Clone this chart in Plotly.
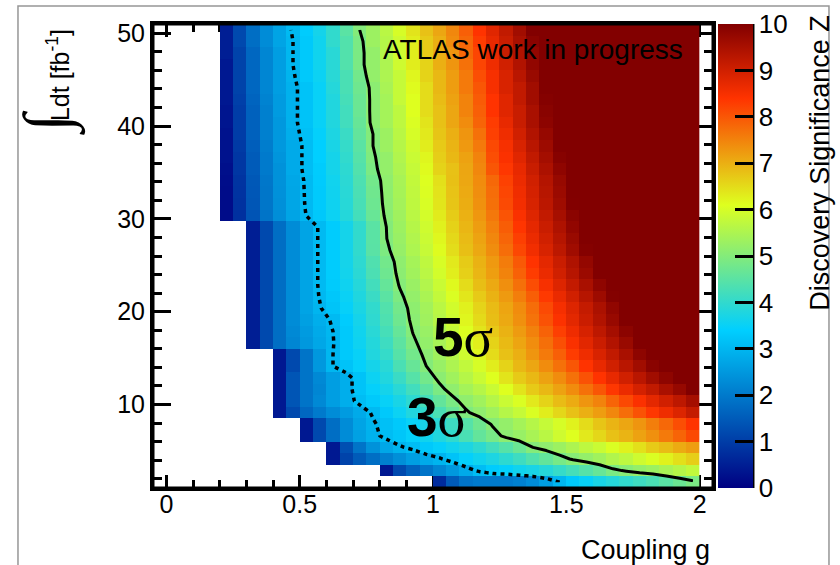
import plotly.graph_objects as go

# Histogram binning: 40 coupling bins (0..2) and 40 luminosity bins (1..51 fb^-1)
coupling_centers = [round(0.025 + 0.05 * i, 3) for i in range(40)]
lumi_centers = [round(1.625 + 1.25 * j, 3) for j in range(40)]

# First filled coupling bin in every luminosity row (lower bins are empty)
first_bin = [20, 16, 12, 12, 10, 10, 8, 8, 8, 8, 8, 8,
             6, 6, 6, 6, 6, 6, 6, 6, 6, 6, 6,
             4, 4, 4, 4, 4, 4, 4, 4, 4, 4, 4, 4, 4, 4, 4, 4, 4]

# Discovery significance Z per luminosity row, starting at first_bin
significance_rows = [
    [0.7, 1.5, 1.9, 2.0, 2.0, 2.0, 2.1, 2.3, 2.6, 3.0, 3.3, 3.5, 3.7, 3.85, 4.0, 4.15, 4.3, 4.5, 4.7, 4.9],
    [0.4, 1.2, 1.6, 1.9, 2.2, 2.5, 2.8, 3.1, 3.35, 3.45, 3.6, 3.7, 3.85, 4.05, 4.25, 4.45, 4.65, 4.9, 5.05, 5.2, 5.3, 5.45, 5.6, 5.75],
    [0.4, 1.1, 1.5, 1.8, 2.1, 2.35, 2.6, 2.8, 2.95, 3.2, 3.45, 3.6, 3.75, 3.95, 4.15, 4.4, 4.6, 4.85, 5.05, 5.2, 5.35, 5.55, 5.7, 5.9, 6.05, 6.25, 6.45, 6.65],
    [0.4, 1.3, 1.9, 2.4, 2.75, 2.95, 3.1, 3.3, 3.45, 3.6, 3.75, 3.95, 4.2, 4.45, 4.7, 5.0, 5.15, 5.3, 5.5, 5.7, 5.85, 6.05, 6.25, 6.45, 6.7, 6.85, 7.05, 7.2],
    [0.4, 1.2, 1.8, 2.3, 2.65, 2.9, 3.1, 3.25, 3.45, 3.6, 3.8, 4.0, 4.3, 4.6, 4.85, 5.1, 5.25, 5.45, 5.65, 5.9, 6.1, 6.35, 6.55, 6.8, 6.95, 7.15, 7.35, 7.6, 7.85, 8.15],
    [0.4, 1.2, 1.8, 2.3, 2.7, 2.95, 3.15, 3.3, 3.5, 3.7, 3.9, 4.15, 4.45, 4.75, 5.05, 5.2, 5.4, 5.6, 5.8, 6.0, 6.25, 6.5, 6.75, 6.95, 7.1, 7.3, 7.55, 7.8, 8.1, 8.4],
    [0.4, 1.2, 1.7, 2.0, 2.3, 2.55, 2.8, 3.05, 3.3, 3.55, 3.8, 4.0, 4.3, 4.65, 4.95, 5.15, 5.35, 5.6, 5.8, 6.05, 6.3, 6.55, 6.8, 7.0, 7.2, 7.45, 7.75, 8.05, 8.35, 8.6, 8.85, 9.15],
    [0.4, 1.4, 1.9, 2.25, 2.6, 2.85, 3.1, 3.3, 3.5, 3.7, 3.95, 4.25, 4.6, 4.9, 5.15, 5.35, 5.6, 5.85, 6.05, 6.35, 6.6, 6.85, 7.05, 7.3, 7.5, 7.85, 8.15, 8.45, 8.75, 9.0, 9.25, 9.55],
    [0.4, 1.4, 1.9, 2.2, 2.6, 2.85, 3.2, 3.45, 3.65, 3.9, 4.2, 4.55, 4.9, 5.15, 5.4, 5.6, 5.85, 6.1, 6.4, 6.7, 6.9, 7.15, 7.4, 7.7, 8.0, 8.35, 8.65, 8.95, 9.2, 9.5, 9.75, 10.05],
    [0.4, 1.4, 1.9, 2.25, 2.6, 2.85, 3.2, 3.55, 3.8, 4.1, 4.45, 4.8, 5.1, 5.35, 5.6, 5.85, 6.1, 6.4, 6.7, 6.9, 7.15, 7.4, 7.7, 8.05, 8.4, 8.7, 9.0, 9.3, 9.6, 9.85, 10.15, 10.45],
    [0.4, 1.2, 1.9, 2.5, 3.0, 3.2, 3.45, 3.65, 3.9, 4.3, 4.65, 5.0, 5.25, 5.5, 5.75, 6.0, 6.3, 6.6, 6.9, 7.1, 7.4, 7.7, 8.0, 8.4, 8.7, 9.0, 9.3, 9.6, 9.9, 10.2, 10.5, 10.8],
    [0.4, 1.2, 1.9, 2.5, 3.0, 3.3, 3.5, 3.8, 4.05, 4.45, 4.8, 5.1, 5.35, 5.6, 5.9, 6.2, 6.5, 6.8, 7.0, 7.3, 7.6, 7.9, 8.3, 8.6, 8.9, 9.2, 9.5, 9.85, 10.15, 10.45, 10.75, 11.05],
    [0.5, 1.2, 1.8, 2.2, 2.5, 2.75, 2.98, 3.3, 3.57, 3.83, 4.15, 4.53, 4.92, 5.19, 5.44, 5.71, 5.98, 6.29, 6.6, 6.88, 7.12, 7.39, 7.72, 8.08, 8.46, 8.77, 9.08, 9.39, 9.7, 10.01, 10.32, 10.63, 10.94, 11.25],
    [0.5, 1.2, 1.8, 2.25, 2.55, 2.8, 3.0, 3.3, 3.6, 3.9, 4.25, 4.64, 5.02, 5.26, 5.52, 5.8, 6.09, 6.4, 6.72, 6.97, 7.23, 7.52, 7.87, 8.26, 8.61, 8.92, 9.24, 9.55, 9.87, 10.18, 10.5, 10.81, 11.13, 11.44],
    [0.5, 1.2, 1.8, 2.3, 2.62, 2.85, 3.05, 3.35, 3.65, 3.97, 4.35, 4.75, 5.09, 5.34, 5.62, 5.9, 6.2, 6.52, 6.83, 7.07, 7.35, 7.68, 8.05, 8.44, 8.76, 9.08, 9.4, 9.72, 10.04, 10.36, 10.68, 11.0, 11.32, 11.64],
    [0.5, 1.2, 1.8, 2.3, 2.69, 2.97, 3.22, 3.47, 3.72, 4.0, 4.4, 4.81, 5.13, 5.38, 5.66, 5.94, 6.26, 6.58, 6.87, 7.12, 7.4, 7.75, 8.14, 8.52, 8.84, 9.16, 9.48, 9.81, 10.13, 10.45, 10.77, 11.1, 11.42, 11.74],
    [0.5, 1.2, 1.8, 2.3, 2.7, 3.02, 3.27, 3.52, 3.78, 4.1, 4.51, 4.92, 5.2, 5.47, 5.76, 6.05, 6.38, 6.7, 6.97, 7.24, 7.55, 7.92, 8.33, 8.67, 9.0, 9.33, 9.66, 9.98, 10.31, 10.64, 10.97, 11.29, 11.62, 11.95],
    [0.5, 1.2, 1.8, 2.3, 2.7, 3.05, 3.33, 3.58, 3.85, 4.21, 4.63, 5.03, 5.27, 5.56, 5.85, 6.17, 6.5, 6.83, 7.07, 7.36, 7.71, 8.11, 8.5, 8.83, 9.17, 9.5, 9.83, 10.17, 10.5, 10.83, 11.17, 11.5, 11.83, 12.17],
    [0.5, 1.2, 1.8, 2.3, 2.7, 3.05, 3.35, 3.63, 3.92, 4.32, 4.74, 5.1, 5.36, 5.66, 5.96, 6.29, 6.63, 6.92, 7.19, 7.5, 7.88, 8.3, 8.66, 9.0, 9.34, 9.68, 10.02, 10.36, 10.69, 11.03, 11.37, 11.71, 12.05, 12.39],
    [0.5, 1.2, 1.8, 2.3, 2.7, 3.05, 3.35, 3.65, 3.96, 4.37, 4.8, 5.14, 5.41, 5.71, 6.01, 6.35, 6.69, 6.97, 7.25, 7.58, 7.97, 8.4, 8.74, 9.09, 9.43, 9.77, 10.11, 10.45, 10.8, 11.14, 11.48, 11.82, 12.16, 12.51],
    [0.5, 1.2, 1.8, 2.3, 2.7, 3.05, 3.35, 3.65, 4.0, 4.49, 4.92, 5.22, 5.51, 5.81, 6.13, 6.48, 6.82, 7.08, 7.38, 7.75, 8.17, 8.57, 8.91, 9.26, 9.61, 9.96, 10.3, 10.65, 11.0, 11.35, 11.7, 12.05, 12.4, 12.75],
    [0.5, 1.2, 1.8, 2.3, 2.7, 3.05, 3.35, 3.65, 4.0, 4.5, 4.99, 5.26, 5.55, 5.86, 6.19, 6.54, 6.87, 7.14, 7.45, 7.84, 8.27, 8.65, 9.0, 9.35, 9.7, 10.05, 10.4, 10.75, 11.1, 11.45, 11.8, 12.15, 12.5, 12.85],
    [0.5, 1.2, 1.8, 2.3, 2.7, 3.05, 3.35, 3.65, 4.0, 4.5, 5.0, 5.3, 5.6, 5.91, 6.26, 6.61, 6.92, 7.2, 7.53, 7.93, 8.38, 8.73, 9.09, 9.44, 9.8, 10.15, 10.5, 10.86, 11.21, 11.57, 11.92, 12.28, 12.63, 12.98],
    [0.2, 0.79, 1.38, 1.9, 2.34, 2.69, 3.01, 3.28, 3.55, 3.84, 4.22, 4.67, 5.07, 5.34, 5.66, 5.97, 6.32, 6.68, 6.98, 7.27, 7.62, 8.03, 8.46, 8.82, 9.18, 9.54, 9.89, 10.25, 10.61, 10.96, 11.32, 11.68, 12.04, 12.39, 12.75, 13.11],
    [0.2, 0.82, 1.41, 1.93, 2.36, 2.72, 3.04, 3.31, 3.58, 3.88, 4.28, 4.73, 5.11, 5.39, 5.71, 6.03, 6.39, 6.75, 7.03, 7.34, 7.71, 8.14, 8.55, 8.91, 9.27, 9.63, 9.99, 10.35, 10.71, 11.07, 11.43, 11.79, 12.15, 12.51, 12.87, 13.23],
    [0.2, 0.83, 1.43, 1.94, 2.38, 2.73, 3.05, 3.32, 3.59, 3.9, 4.31, 4.76, 5.13, 5.42, 5.73, 6.06, 6.42, 6.78, 7.06, 7.37, 7.75, 8.19, 8.59, 8.95, 9.32, 9.68, 10.04, 10.4, 10.76, 11.13, 11.49, 11.85, 12.21, 12.57, 12.94, 13.3],
    [0.21, 0.85, 1.45, 1.96, 2.39, 2.75, 3.06, 3.34, 3.61, 3.92, 4.34, 4.8, 5.15, 5.44, 5.76, 6.09, 6.45, 6.81, 7.09, 7.4, 7.8, 8.24, 8.64, 9.0, 9.36, 9.73, 10.09, 10.45, 10.82, 11.18, 11.55, 11.91, 12.27, 12.64, 13.0, 13.36],
    [0.25, 0.9, 1.5, 2.0, 2.4, 2.8, 3.1, 3.35, 3.65, 3.95, 4.4, 4.9, 5.2, 5.5, 5.8, 6.15, 6.6, 6.8, 7.1, 7.45, 8.0, 8.35, 8.7, 9.1, 9.46, 9.83, 10.19, 10.56, 10.93, 11.29, 11.66, 12.03, 12.39, 12.76, 13.13, 13.49],
    [0.3, 0.9, 1.5, 2.0, 2.45, 2.8, 3.1, 3.4, 3.65, 4.0, 4.45, 4.95, 5.2, 5.55, 5.85, 6.2, 6.65, 6.9, 7.15, 7.5, 8.1, 8.45, 8.8, 9.2, 9.56, 9.93, 10.3, 10.67, 11.04, 11.41, 11.78, 12.15, 12.52, 12.89, 13.26, 13.63],
    [0.3, 0.95, 1.55, 2.05, 2.5, 2.8, 3.1, 3.4, 3.7, 4.05, 4.5, 5.0, 5.3, 5.6, 5.9, 6.3, 6.7, 6.95, 7.25, 7.6, 8.15, 8.5, 8.9, 9.3, 9.65, 10.03, 10.4, 10.78, 11.15, 11.52, 11.9, 12.27, 12.65, 13.02, 13.39, 13.77],
    [0.3, 1.0, 1.6, 2.1, 2.5, 2.85, 3.15, 3.45, 3.75, 4.1, 4.6, 5.0, 5.3, 5.65, 6.0, 6.35, 6.75, 7.0, 7.3, 7.7, 8.25, 8.6, 9.0, 9.4, 9.75, 10.13, 10.51, 10.89, 11.26, 11.64, 12.02, 12.4, 12.77, 13.15, 13.53, 13.91],
    [0.35, 1.0, 1.6, 2.1, 2.5, 2.9, 3.2, 3.5, 3.8, 4.2, 4.65, 5.1, 5.4, 5.7, 6.05, 6.4, 6.8, 7.1, 7.4, 7.85, 8.3, 8.7, 9.1, 9.5, 9.86, 10.24, 10.62, 11.0, 11.38, 11.76, 12.14, 12.52, 12.9, 13.29, 13.67, 14.05],
    [0.35, 1.0, 1.6, 2.1, 2.55, 2.9, 3.2, 3.5, 3.8, 4.2, 4.7, 5.1, 5.4, 5.7, 6.1, 6.5, 6.8, 7.1, 7.5, 7.9, 8.4, 8.8, 9.1, 9.5, 9.91, 10.29, 10.68, 11.06, 11.44, 11.82, 12.21, 12.59, 12.97, 13.36, 13.74, 14.12],
    [0.4, 1.05, 1.65, 2.15, 2.55, 2.9, 3.2, 3.5, 3.8, 4.25, 4.7, 5.1, 5.4, 5.8, 6.1, 6.5, 6.85, 7.15, 7.5, 7.95, 8.4, 8.8, 9.2, 9.6, 9.96, 10.35, 10.73, 11.12, 11.5, 11.88, 12.27, 12.65, 13.04, 13.42, 13.81, 14.19],
    [0.4, 1.1, 1.7, 2.2, 2.6, 2.9, 3.2, 3.5, 3.85, 4.3, 4.75, 5.1, 5.45, 5.8, 6.15, 6.5, 6.9, 7.2, 7.6, 8.0, 8.5, 8.9, 9.2, 9.6, 10.01, 10.4, 10.79, 11.17, 11.56, 11.95, 12.33, 12.72, 13.11, 13.49, 13.88, 14.26],
    [0.4, 1.1, 1.7, 2.2, 2.6, 2.95, 3.3, 3.55, 3.9, 4.3, 4.8, 5.2, 5.5, 5.8, 6.2, 6.6, 6.9, 7.2, 7.6, 8.1, 8.5, 8.9, 9.3, 9.7, 10.07, 10.46, 10.84, 11.23, 11.62, 12.01, 12.4, 12.79, 13.17, 13.56, 13.95, 14.34],
    [0.4, 1.1, 1.7, 2.2, 2.6, 3.0, 3.3, 3.6, 3.9, 4.4, 4.9, 5.2, 5.5, 5.9, 6.3, 6.6, 7.0, 7.3, 7.7, 8.2, 8.6, 9.0, 9.4, 9.8, 10.18, 10.57, 10.96, 11.35, 11.74, 12.14, 12.53, 12.92, 13.31, 13.71, 14.1, 14.49],
    [0.5, 1.1, 1.7, 2.2, 2.6, 3.0, 3.3, 3.6, 3.9, 4.4, 4.9, 5.2, 5.6, 5.9, 6.3, 6.7, 7.0, 7.3, 7.8, 8.2, 8.7, 9.1, 9.4, 9.8, 10.23, 10.63, 11.02, 11.41, 11.81, 12.2, 12.6, 12.99, 13.38, 13.78, 14.17, 14.57],
    [0.5, 1.2, 1.8, 2.3, 2.7, 3.0, 3.3, 3.6, 4.0, 4.4, 4.9, 5.3, 5.6, 5.9, 6.3, 6.7, 7.0, 7.4, 7.8, 8.3, 8.7, 9.1, 9.5, 9.9, 10.29, 10.68, 11.08, 11.48, 11.87, 12.27, 12.66, 13.06, 13.46, 13.85, 14.25, 14.64],
    [0.5, 1.2, 1.8, 2.3, 2.7, 3.05, 3.35, 3.65, 4.0, 4.5, 5.0, 5.3, 5.65, 6.0, 6.4, 6.8, 7.1, 7.45, 7.9, 8.4, 8.8, 9.2, 9.6, 10.0, 10.4, 10.8, 11.2, 11.6, 12.0, 12.4, 12.8, 13.2, 13.6, 14.0, 14.4, 14.8],
]

significance = [[None] * fb + list(vals) for fb, vals in zip(first_bin, significance_rows)]
assert all(len(r) == len(coupling_centers) for r in significance)

# ROOT-style rainbow palette
palette = [
    [0.00, "rgb(0,0,130)"],
    [0.34, "rgb(0,207,255)"],
    [0.61, "rgb(222,255,31)"],
    [0.84, "rgb(255,51,0)"],
    [1.00, "rgb(130,0,0)"],
]

FONT = "Liberation Sans"

fig = go.Figure()

fig.add_trace(go.Heatmap(
    x=coupling_centers, y=lumi_centers, z=significance,
    zmin=0, zmax=10, colorscale=palette, hoverongaps=False,
    colorbar=dict(
        x=1.0089, xanchor="left", xpad=0,
        y=0.5, yanchor="middle", len=1, lenmode="fraction", ypad=0,
        thickness=35, outlinewidth=0,
        tickmode="array", tickvals=list(range(11)),
        ticks="inside", ticklen=18, tickwidth=3, tickcolor="black",
        tickfont=dict(family=FONT, size=26, color="black"),
    ),
))

# 3 sigma (dotted) and 5 sigma (solid) contours
fig.add_trace(go.Contour(
    x=coupling_centers, y=lumi_centers, z=significance,
    autocontour=False, contours=dict(start=3, end=3, size=1, coloring="none"),
    line=dict(color="black", width=3.5, dash="4px,4px", smoothing=0),
    showscale=False, hoverinfo="skip",
))
fig.add_trace(go.Contour(
    x=coupling_centers, y=lumi_centers, z=significance,
    autocontour=False, contours=dict(start=5, end=5, size=1, coloring="none"),
    line=dict(color="black", width=3, smoothing=0),
    showscale=False, hoverinfo="skip",
))

axis_common = dict(
    showgrid=False, zeroline=False, showline=True, linewidth=3, linecolor="black",
    ticks="inside", tickwidth=3, tickcolor="black", mirror="ticks",
    layer="below traces", tickfont=dict(family=FONT, size=25, color="black"),
)

fig.update_xaxes(range=[-0.05, 2.05], tick0=0, dtick=0.5, ticklen=13, ticklabelstandoff=-8,
                 minor=dict(tick0=0, dtick=0.1, ticks="inside", ticklen=8, tickwidth=2.5, tickcolor="black"),
                 **axis_common)
fig.update_yaxes(range=[1, 51], tick0=0, dtick=10, ticklen=18,
                 minor=dict(tick0=0, dtick=2, ticks="inside", ticklen=9, tickwidth=2.5, tickcolor="black"),
                 **axis_common)

fig.update_layout(
    width=840, height=565,
    margin=dict(l=153, r=127, t=24, b=77),
    paper_bgcolor="white", plot_bgcolor="white",
    font=dict(family=FONT, color="black"),
    showlegend=False,
    shapes=[
        # frame around the pad
        dict(type="rect", xref="paper", yref="paper", x0=0, x1=1, y0=0, y1=1,
             line=dict(color="black", width=3), layer="above"),
        # colour axis line
        dict(type="line", xref="paper", yref="paper", x0=1.0714, x1=1.0714, y0=0, y1=1,
             line=dict(color="black", width=3)),
        # canvas border
        dict(type="rect", xref="paper", yref="paper", x0=-0.2411, x1=1.2071, y0=-0.3, y1=1.0388,
             line=dict(color="rgb(150,150,150)", width=1.5), layer="below"),
    ],
    annotations=[
        dict(text="ATLAS work in progress", xref="paper", yref="paper",
             x=0.4071, y=0.944, xanchor="left", yanchor="middle", showarrow=False,
             font=dict(family=FONT, size=28, color="black")),
        dict(text="<b>5</b><span style='font-family:Liberation Serif'>σ</span>",
             xref="paper", yref="paper", x=0.4964, y=0.325, xanchor="left", yanchor="middle",
             showarrow=False, font=dict(family=FONT, size=55, color="black")),
        dict(text="<b>3</b><span style='font-family:Liberation Serif'>σ</span>",
             xref="paper", yref="paper", x=0.45, y=0.153, xanchor="left", yanchor="middle",
             showarrow=False, font=dict(family=FONT, size=55, color="black")),
        # luminosity axis title: integral sign and "Ldt [fb-1]"
        dict(text="∫", xref="paper", yref="paper", x=-0.1875, y=0.7856,
             xanchor="center", yanchor="middle", textangle=-90, showarrow=False,
             font=dict(family="Liberation Serif", size=64, color="black")),
        dict(text="Ldt [fb<sup>-1</sup>]",
             xref="paper", yref="paper", x=-0.1696, y=0.9935, xanchor="center", yanchor="top",
             textangle=-90, showarrow=False, font=dict(family=FONT, size=25, color="black")),
        dict(text="Discovery Significance Z",
             xref="paper", yref="paper", x=1.191, y=1.024, xanchor="center", yanchor="top",
             textangle=-90, showarrow=False, font=dict(family=FONT, size=27, color="black")),
        dict(text="Coupling g", xref="paper", yref="paper", x=0.998, y=-0.1336,
             xanchor="right", yanchor="middle", showarrow=False,
             font=dict(family=FONT, size=27, color="black")),
    ],
)

fig.write_html("out.html")
